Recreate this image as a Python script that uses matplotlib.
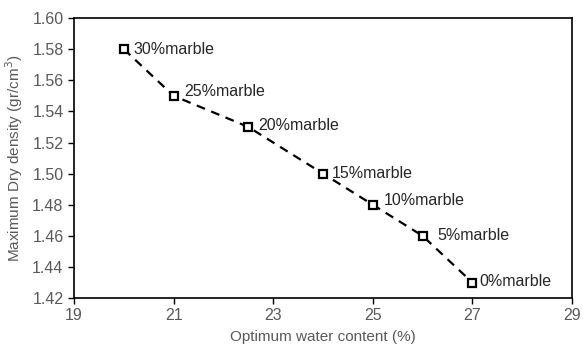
import matplotlib
matplotlib.use("Agg")
from matplotlib import pyplot as plt

water = [20, 21, 22.5, 24, 25, 26, 27]
density = [1.58, 1.55, 1.53, 1.50, 1.48, 1.46, 1.43]
labels = ["30%marble", "25%marble", "20%marble", "15%marble", "10%marble", "5%marble", "0%marble"]
label_dx = [7, 8, 7, 6, 8, 11, 5]
label_dy = [0, 3, 1, 0, 3, 0, 1]

plt.rcParams["font.family"] = ["Liberation Sans", "DejaVu Sans"]
grey = "#595959"

fig = plt.figure(figsize=(5.83, 3.47), dpi=100)
ax = fig.add_axes([0.127, 0.141, 0.854, 0.807])
ax.plot(water, density, color="black", linestyle=(0, (4, 3)), linewidth=1.6,
        marker="s", markersize=6, markerfacecolor="white", markeredgecolor="black",
        markeredgewidth=1.6)
for x, y, t, dx, dy in zip(water, density, labels, label_dx, label_dy):
    ax.annotate(t, (x, y), xytext=(dx, dy), textcoords="offset points",
                ha="left", va="center", fontsize=11.5, color="#262626")

ax.set_xlim(19, 29)
ax.set_ylim(1.42, 1.60)
ax.set_xticks([19, 21, 23, 25, 27, 29])
ax.set_yticks([1.42, 1.44, 1.46, 1.48, 1.50, 1.52, 1.54, 1.56, 1.58, 1.60])
ax.set_yticklabels([f"{v:.2f}" for v in ax.get_yticks()])
ax.tick_params(direction="out", length=4, width=1, colors="black", labelcolor=grey, labelsize=11.5,
               top=False, right=False)
for s in ax.spines.values():
    s.set_linewidth(1.2)
ax.set_xlabel("Optimum water content (%)", color=grey, fontsize=11, labelpad=5)
ax.set_ylabel("Maximum Dry density (gr/cm$^3$)", color=grey, fontsize=11, labelpad=5)

fig.savefig("out.png", dpi=100)
